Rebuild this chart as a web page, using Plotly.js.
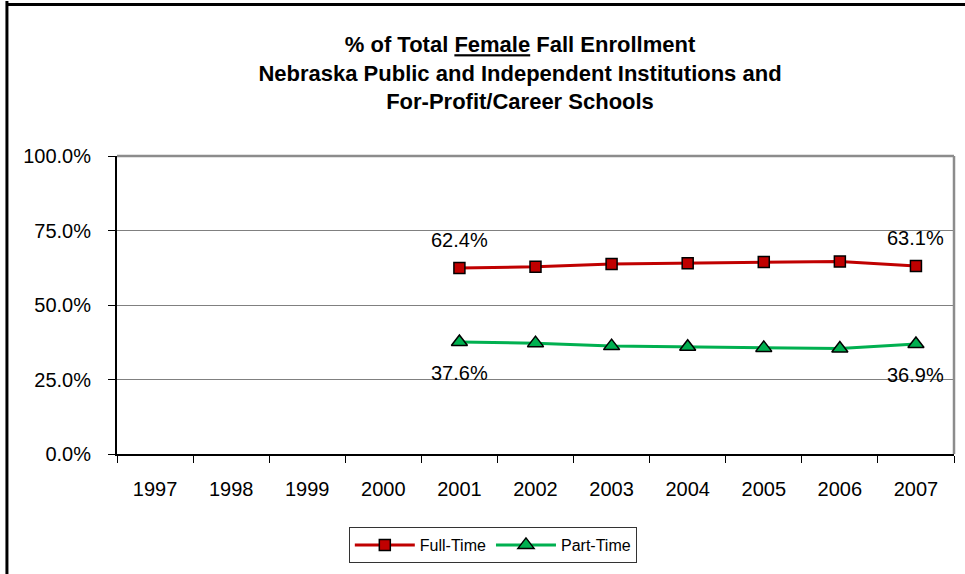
<!DOCTYPE html>
<html>
<head>
<meta charset="utf-8">
<script src="https://cdn.plot.ly/plotly-3.0.1.min.js"></script>
<style>
html,body{margin:0;padding:0;background:#fff;}
#chart{width:965px;height:574px;}
</style>
</head>
<body>
<div id="chart"></div>
<script>
var years = ['1997','1998','1999','2000','2001','2002','2003','2004','2005','2006','2007'];
var fullTime = [null,null,null,null,62.4,62.8,63.8,64.0,64.4,64.6,63.1];
var partTime = [null,null,null,null,37.6,37.2,36.2,36.0,35.6,35.4,36.9];
var yTicks = [0,25,50,75,100];
var yTickLabels = ['0.0%','25.0%','50.0%','75.0%','100.0%'];
var labeledYears = ['2001','2007'];

var FONT = 'Liberation Sans, Arial, sans-serif';

var traces = [
  {x: years, y: fullTime, name: 'Full-Time', type: 'scatter', mode: 'lines+markers',
   line: {color: '#C00000', width: 3},
   marker: {symbol: 'square', size: 11, color: '#C00000', line: {color: '#000', width: 1.5}},
   connectgaps: false, hoverinfo: 'x+y'},
  {x: years, y: partTime, name: 'Part-Time', type: 'scatter', mode: 'lines+markers',
   line: {color: '#00B050', width: 3},
   marker: {symbol: 'triangle-up', size: 14, color: '#00B050', line: {color: '#000', width: 1.5}},
   connectgaps: false, hoverinfo: 'x+y'}
];

var annotations = [];
labeledYears.forEach(function(yr){
  var i = years.indexOf(yr);
  annotations.push({x: i, y: fullTime[i], xref: 'x', yref: 'y', text: fullTime[i].toFixed(1) + '%',
    showarrow: false, yshift: 28, font: {family: FONT, size: 20, color: '#000'}});
  annotations.push({x: i, y: partTime[i], xref: 'x', yref: 'y', text: partTime[i].toFixed(1) + '%',
    showarrow: false, yshift: -31, font: {family: FONT, size: 20, color: '#000'}});
});

var layout = {
  width: 965, height: 574,
  margin: {l: 117, r: 11, t: 156, b: 120, pad: 0},
  paper_bgcolor: '#fff', plot_bgcolor: '#fff',
  font: {family: FONT, color: '#000'},
  showlegend: true,
  title: {
    text: '<b>% of Total <u>Female</u> Fall Enrollment<br>Nebraska Public and Independent Institutions and<br>For-Profit/Career Schools</b>',
    font: {family: FONT, size: 22, color: '#000'},
    x: 0.4815, xref: 'paper', xanchor: 'center',
    y: 0.909, yref: 'container', yanchor: 'top'
  },
  xaxis: {
    type: 'category', categoryorder: 'array', categoryarray: years,
    range: [-0.5, 10.5],
    showgrid: false, zeroline: false,
    showline: true, linecolor: '#000', linewidth: 2,
    ticks: 'outside', tickson: 'boundaries', ticklen: 7, tickcolor: '#000', tickwidth: 1,
    tickfont: {family: FONT, size: 20, color: '#000'},
    ticklabelstandoff: 16,
    fixedrange: true
  },
  yaxis: {
    range: [0, 100],
    tickvals: yTicks, ticktext: yTickLabels,
    showgrid: true, gridcolor: '#808080', gridwidth: 1,
    zeroline: false,
    showline: true, linecolor: '#000', linewidth: 2,
    ticks: 'outside', ticklen: 7, tickcolor: '#000', tickwidth: 1,
    tickfont: {family: FONT, size: 20, color: '#000'},
    ticklabelstandoff: 13,
    fixedrange: true
  },
  legend: {
    orientation: 'h', x: 0.449, xanchor: 'center', y: -0.245, yanchor: 'top',
    bordercolor: '#333', borderwidth: 1, bgcolor: '#fff',
    font: {family: FONT, size: 16, color: '#000'},
    itemwidth: 60, tracegroupgap: 0
  },
  annotations: annotations,
  shapes: [
    {type: 'line', xref: 'paper', yref: 'paper', x0: 0, x1: 1, y0: 1, y1: 1, line: {color: '#8c8c8c', width: 2.5}},
    {type: 'line', xref: 'paper', yref: 'paper', x0: 1, x1: 1, y0: 0, y1: 1, line: {color: '#8c8c8c', width: 2.5}},
    {type: 'line', xref: 'paper', yref: 'paper', x0: -0.1315, x1: -0.1315, y0: -0.45, y1: 1.52, line: {color: '#000', width: 3}},
    {type: 'line', xref: 'paper', yref: 'paper', x0: -0.1315, x1: 1.02, y0: 1.508, y1: 1.508, line: {color: '#000', width: 3}}
  ]
};

Plotly.newPlot('chart', traces, layout, {displayModeBar: false, staticPlot: true});
</script>
</body>
</html>
